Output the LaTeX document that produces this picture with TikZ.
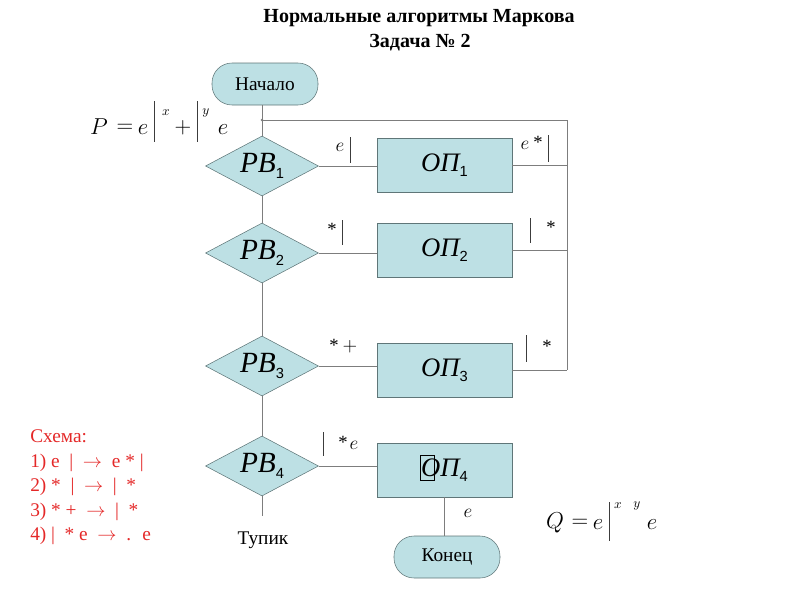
\documentclass[tikz,border=0pt]{standalone}
\usepackage{fontspec}
\setmainfont{Liberation Serif}
\setsansfont{Liberation Sans}
\usetikzlibrary{shapes.geometric}
\definecolor{fillc}{RGB}{189,224,228}
\definecolor{bordc}{RGB}{95,118,120}
\definecolor{linec}{RGB}{125,125,125}
\definecolor{barc}{RGB}{60,60,60}
\definecolor{redc}{RGB}{228,40,40}
\newcommand\blk[3]{{\fontsize{#3}{#3}\selectfont\itshape #1}\raisebox{-4pt}{\fontsize{11}{11}\selectfont\sffamily #2}}
\newcommand\arr{$\rightarrow$}
\begin{document}
\begin{tikzpicture}[x=0.75pt,y=-0.75pt,
  term/.style={draw=bordc, fill=fillc, rounded corners=15pt, minimum width=79.5pt, minimum height=31.5pt, inner sep=0pt, font=\fontsize{14.5}{14.5}\selectfont},
  dec/.style={diamond, aspect=1.9, draw=bordc, fill=fillc, minimum width=84.75pt, minimum height=45pt, inner sep=0pt},
  opbox/.style={rectangle, draw=bordc, fill=fillc, minimum width=101.25pt, minimum height=40.5pt, inner sep=0pt},
  conn/.style={draw=linec, line width=0.6pt},
  bar/.style={draw=barc, line width=0.7pt},
  lab/.style={inner sep=0pt, font=\fontsize{14}{14}\selectfont},
  big/.style={inner sep=0pt, font=\fontsize{18.5}{18.5}\selectfont},
  sup/.style={inner sep=0pt, font=\fontsize{10}{10}\selectfont},
  red/.style={anchor=base west, inner sep=0pt, text=redc, font=\fontsize{14.5}{14.5}\selectfont}]
\useasboundingbox (0,0) rectangle (800,600);
% title
\node[font=\fontsize{15}{15}\selectfont\bfseries] (t1) at (419,18) {Нормальные алгоритмы Маркова};
\node[font=\fontsize{15}{15}\selectfont\bfseries] (t2) at (420,43) {Задача № 2};
% nodes
\node[term] (start) at (265,84) {Начало};
\node[dec] (d1) at (262,166) {\blk{РВ}{1}{22}};
\node[dec] (d2) at (262,253) {\blk{РВ}{2}{22}};
\node[dec] (d3) at (262,366) {\blk{РВ}{3}{22}};
\node[dec] (d4) at (262,466) {\blk{РВ}{4}{22}};
\node[opbox] (o1) at (444.5,165) {\blk{ОП}{1}{20}};
\node[opbox] (o2) at (444.5,250) {\blk{ОП}{2}{20}};
\node[opbox] (o3) at (444.5,370) {\blk{ОП}{3}{20}};
\node[opbox] (o4) at (444.5,470) {\blk{ОП}{4}{20}};
\draw[line width=0.6pt, draw=black] (420,455) rectangle (434,480);
\node[term] (end) at (447,557) {Конец};
% connectors
\coordinate (ja) at (262,120);
\coordinate (jr) at (567,120);
\coordinate (dead) at (262,516);
\draw[conn] (d1.north |- start.south) -- (d1.north);
\draw[conn] (d1.south) -- (d2.north);
\draw[conn] (d2.south) -- (d3.north);
\draw[conn] (d3.south) -- (d4.north);
\draw[conn] (d4.south) -- (dead);
\draw[conn] (ja) -- (jr) -- (o3.east -| jr);
\fill[linec] (ja) circle (1.3);
\draw[conn] (d1.east) -- (d1.east -| o1.west);
\draw[conn] (d2.east) -- (d2.east -| o2.west);
\draw[conn] (d3.east) -- (d3.east -| o3.west);
\draw[conn] (d4.east) -- (d4.east -| o4.west);
\draw[conn] (o1.east) -- (o1.east -| jr);
\draw[conn] (o2.east) -- (o2.east -| jr);
\draw[conn] (o3.east) -- (o3.east -| jr);
\draw[conn] (o4.south) -- (o4.south |- end.north);
\node[font=\fontsize{14.5}{14.5}\selectfont] (tupik) at (263,540) {Тупик};
% labels
\node[lab] (l1e) at (340,147) {$e$};
\draw[bar] (350,137) -- (350,163);
\node[lab] (l2e) at (525,145) {$e$};
\node[lab] (l2s) at (538,142) {*};
\draw[bar] (548,135) -- (548,162);
\node[lab] (l3s) at (332,229) {*};
\draw[bar] (342,220) -- (342,245);
\draw[bar] (530,218) -- (530,243);
\node[lab] (l4s) at (551,227) {*};
\node[lab] (l5s) at (334,345) {*};
\node[lab] (l5p) at (350,347) {$+$};
\draw[bar] (526,335) -- (526,362);
\node[lab] (l6s) at (547,346) {*};
\draw[bar] (323,432) -- (323,456);
\node[lab] (l7s) at (343,442) {*};
\node[lab] (l7e) at (354,445) {$e$};
\node[lab] (l8e) at (468,513) {$e$};
% formula P
\node[big] (pP) at (99,127) {$P$};
\node[big] (pEq) at (125,128) {$=$};
\node[big] (pe1) at (143,130) {$e$};
\draw[bar] (154,101) -- (154,142);
\node[sup] (px) at (166,113) {$x$};
\node[big] (pPl) at (183,128) {$+$};
\draw[bar] (197,101) -- (197,142);
\node[sup] (py) at (206,113) {$y$};
\node[big] (pe2) at (223,130) {$e$};
% formula Q
\node[big] (qQ) at (555,523) {$Q$};
\node[big] (qEq) at (580,523) {$=$};
\node[big] (qe1) at (598,525) {$e$};
\draw[bar] (609,502) -- (609,541);
\node[sup] (qx) at (618,506) {$x$};
\node[sup] (qy) at (637,506) {$y$};
\node[big] (qe2) at (652,525) {$e$};
% scheme
\node[red] (s0) at (30,442) {Схема:};
\node[red] (s1) at (30,467) {1) e \ | \ \arr\ \ e * |};
\node[red] (s2) at (30,491) {2) * \ | \ \arr\ \ | \ *};
\node[red] (s3) at (30,516) {3) * + \ \arr\ \ | \ *};
\node[red] (s4) at (30,540) {4) | \ * e \ \arr\ \ . \ e};
\end{tikzpicture}
\end{document}
